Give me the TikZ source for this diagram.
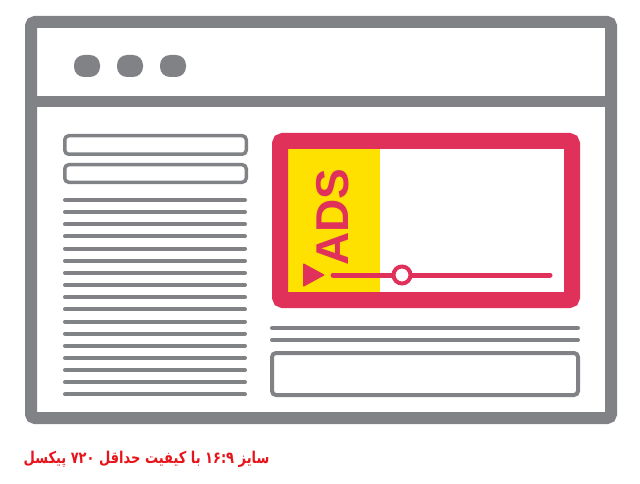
\documentclass[tikz,border=0pt]{standalone}
\usepackage{fontspec}
\TeXXeTstate=1
\newfontfamily\arabicfont[Script=Arabic]{DejaVu Sans}
\newfontfamily\adsfont{Liberation Sans}
\definecolor{framegray}{HTML}{808285}
\definecolor{adred}{HTML}{E0315B}
\definecolor{adyellow}{HTML}{FFE100}
\definecolor{captionred}{HTML}{E8141C}

\begin{document}
\begin{tikzpicture}[x=1pt,y=-1pt]
    \useasboundingbox (0,0) rectangle (640,484);
    % Browser window
    \draw[framegray, line width=12pt, rounded corners=4pt] (31,22) rectangle (611,418);
    \draw[framegray, line width=11pt] (31,102) -- (611,102);
    % Window buttons
    \foreach \x in {87,130,173}
        \fill[framegray, rounded corners=10pt] (\x-13,55) rectangle (\x+13,77);
    % Left column
    \draw[framegray, line width=3.5pt, rounded corners=4pt] (64.75,135.75) rectangle (246.25,154.25);
    \draw[framegray, line width=3.5pt, rounded corners=4pt] (64.75,164.75) rectangle (246.25,182.25);
    \foreach \i in {0,...,16}
        \draw[framegray, line width=4pt, line cap=round] (65,{200+12.15*\i}) -- (245,{200+12.15*\i});
    % Video ad
    \fill[adyellow] (288,149) rectangle (380,292);
    \draw[adred, line width=16pt, rounded corners=3pt] (280,141) rectangle (572,300);
    \node[rotate=90, inner sep=0pt, text=adred, font=\adsfont\bfseries\fontsize{46}{46}\selectfont] (ads) at (333,217) {ADS};
    \fill[adred, rounded corners=1pt] (303,263) -- (325,275) -- (303,287) -- cycle;
    \draw[adred, line width=5pt, line cap=round] (333,275) -- (550,275);
    \draw[adred, line width=4pt, fill=white] (402,275) circle (8.5);
    % Right column
    \draw[framegray, line width=4pt, line cap=round] (272,328) -- (578,328);
    \draw[framegray, line width=4pt, line cap=round] (272,340) -- (578,340);
    \draw[framegray, line width=4pt, rounded corners=4pt] (272,353) rectangle (578,395);
    % Caption
    \node[yscale=1.25, text=captionred, font=\arabicfont\bfseries\fontsize{13}{13}\selectfont] (caption) at (146.5,459)
        {\beginR سایز \beginL۱۶:۹\endL{} با کیفیت حداقل \beginL۷۲۰\endL{} پیکسل\endR};
\end{tikzpicture}
\end{document}
